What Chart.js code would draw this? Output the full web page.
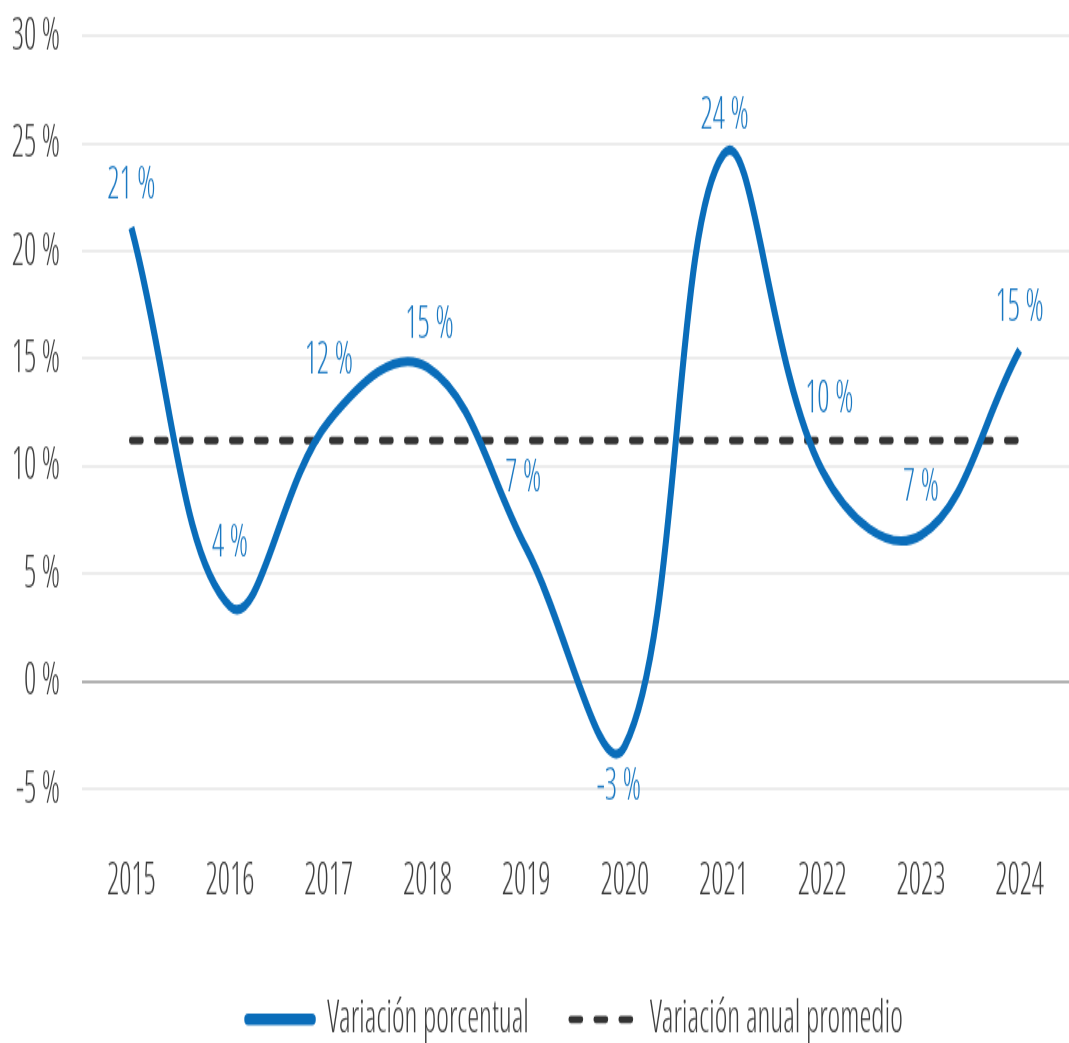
<!DOCTYPE html>
<html>
<head>
<meta charset="utf-8">
<script src="https://cdn.jsdelivr.net/npm/chart.js@4/dist/chart.umd.min.js"></script>
<style>
  html, body { margin: 0; padding: 0; background: #fff; }
</style>
</head>
<body>
<!-- bitmap is 673 px high and shown at 1043 px: the original chart is stretched vertically -->
<canvas id="chart" width="1069" height="673" style="display:block;width:1069px;height:1043px"></canvas>
<script>
// Variación porcentual anual, 2015-2024
const years = ["2015", "2016", "2017", "2018", "2019", "2020", "2021", "2022", "2023", "2024"];
const variation = [21.1, 3.5, 12.1, 14.6, 6.2, -3.0, 24.5, 9.8, 6.8, 15.4];
const average = [11.2, 11.2, 11.2, 11.2, 11.2, 11.2, 11.2, 11.2, 11.2, 11.2];
const pointLabels = ["21 %", "4 %", "12 %", "15 %", "7 %", "-3 %", "24 %", "10 %", "7 %", "15 %"];
const yTicks = [30, 25, 20, 15, 10, 5, 0, -5];

// where each value label sits relative to its point (dx, dy)
const labelOffsets = [[0, -27], [0, -41], [0, -39], [2, -28], [-3, -45], [-6, 26], [1, -25], [7, -46], [0, -31], [0, -27]];

const FAMILY = "'Open Sans', sans-serif";
const WEIGHT = "300 condensed"; // light, narrow face
const BLUE = "#0a6dba";
const GREY = "#3c3c3c";

const pointLabelPlugin = {
  id: "pointLabels",
  afterDatasetsDraw(chart) {
    const meta = chart.getDatasetMeta(0);
    const ctx = chart.ctx;
    ctx.save();
    ctx.font = WEIGHT + " 30px " + FAMILY;
    ctx.fillStyle = "#1a78c2";
    ctx.textAlign = "center";
    ctx.textBaseline = "middle";
    meta.data.forEach((pt, i) => {
      const [dx, dy] = labelOffsets[i];
      ctx.fillText(pointLabels[i], pt.x + dx, pt.y + dy);
    });
    ctx.restore();
  },
};

new Chart(document.getElementById("chart"), {
  type: "line",
  data: {
    labels: years,
    datasets: [
      {
        label: "Variación porcentual",
        data: variation,
        borderColor: BLUE,
        backgroundColor: BLUE,
        borderWidth: 6,
        tension: 0.4,
        pointRadius: 0,
        clip: false,
      },
      {
        label: "Variación anual promedio",
        data: average,
        borderColor: "#333333",
        backgroundColor: "#333333",
        borderWidth: 4.8,
        borderDash: [10, 15],
        borderCapStyle: "round",
        pointRadius: 0,
        clip: false,
      },
    ],
  },
  options: {
    responsive: false,
    animation: false,
    devicePixelRatio: 1,
    layout: { padding: { left: 0, top: 23.2, right: 0, bottom: -9.9 } },
    scales: {
      x: {
        offset: true,
        grid: { display: false, drawTicks: false },
        border: { display: false },
        ticks: { color: GREY, font: { family: FAMILY, weight: WEIGHT, size: 30 }, padding: 13.6 },
        afterFit: (axis) => { axis.height = 63.7; },
      },
      y: {
        min: -7,
        max: 30,
        afterBuildTicks: (axis) => { axis.ticks = yTicks.map((v) => ({ value: v })); },
        afterFit: (axis) => { axis.width = 82; },
        grid: {
          drawTicks: true,
          tickLength: 22,
          tickColor: "rgba(0,0,0,0)",
          lineWidth: 2,
          color: (c) => (c.tick && c.tick.value === 0 ? "#b2b2b2" : "#ececec"),
        },
        border: { display: false },
        ticks: {
          color: GREY,
          font: { family: FAMILY, weight: WEIGHT, size: 30 },
          padding: 0,
          callback: (v) => v + " %",
        },
      },
    },
    plugins: {
      legend: {
        position: "bottom",
        fullSize: false,
        labels: {
          color: GREY,
          font: { family: FAMILY, weight: WEIGHT, size: 30.2 },
          usePointStyle: true,
          pointStyle: "line",
          pointStyleWidth: 64,
          padding: 42,
          generateLabels: (chart) =>
            Chart.defaults.plugins.legend.labels.generateLabels(chart).map((item, i) => {
              const ds = chart.data.datasets[i];
              item.lineWidth = i === 0 ? 7.5 : ds.borderWidth;
              item.lineDash = ds.borderDash || [];
              item.lineCap = "round";
              item.strokeStyle = ds.borderColor;
              return item;
            }),
        },
      },
      tooltip: { enabled: false },
    },
  },
  plugins: [pointLabelPlugin],
});
</script>
</body>
</html>
